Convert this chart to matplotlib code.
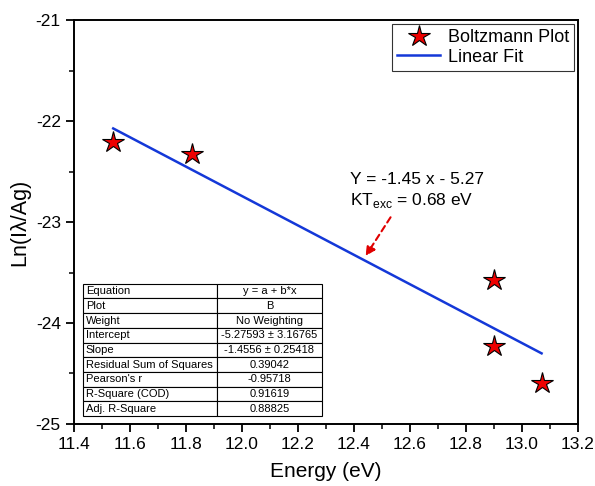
import numpy as np
import matplotlib
matplotlib.use("Agg")
from matplotlib import pyplot as plt
from matplotlib.ticker import MultipleLocator

plt.rcParams['font.family'] = ['Liberation Sans', 'DejaVu Sans']
plt.rcParams['axes.unicode_minus'] = False

# Dados
energia = [11.54, 11.82, 12.90, 12.90, 13.07]
ln_i = [-22.21, -22.33, -23.57, -24.23, -24.59]
intercepto = -5.27593
inclinacao = -1.4556

linhas_tabela = ["Equation", "Plot", "Weight", "Intercept", "Slope",
                 "Residual Sum of Squares", "Pearson's r", "R-Square (COD)",
                 "Adj. R-Square"]
valores_tabela = ["y = a + b*x", "B", "No Weighting", "-5.27593 \u00b1 3.16765",
                  "-1.4556 \u00b1 0.25418", "0.39042", "-0.95718", "0.91619",
                  "0.88825"]

# Figura
fig = plt.figure(figsize=(5.95, 4.86), dpi=100)
ax = fig.add_axes([0.1244, 0.1276, 0.847, 0.8312])

ax.plot(energia, ln_i, linestyle='none', marker='*', markersize=16,
        markerfacecolor='#ee0000', markeredgecolor='black', markeredgewidth=0.8,
        label='Boltzmann Plot', zorder=3)
xs = np.array([min(energia), max(energia)])
ax.plot(xs, intercepto + inclinacao * xs, color='#1438d8', lw=1.8, label='Linear Fit')

ax.set_xlim(11.4, 13.2)
ax.set_ylim(-25, -21)
ax.xaxis.set_major_locator(MultipleLocator(0.2))
ax.xaxis.set_minor_locator(MultipleLocator(0.1))
ax.yaxis.set_major_locator(MultipleLocator(1))
ax.yaxis.set_minor_locator(MultipleLocator(0.5))
ax.xaxis.set_major_formatter(matplotlib.ticker.FormatStrFormatter('%.1f'))
ax.tick_params(which='major', direction='out', length=6, width=1.3, labelsize=12.5)
ax.tick_params(which='minor', direction='out', length=3.5, width=1.1)
for s in ax.spines.values():
    s.set_linewidth(1.4)

ax.set_xlabel('Energy (eV)', fontsize=15, labelpad=7)
ax.set_ylabel('Ln(I\u03bb/Ag)', fontsize=15.5)

leg = ax.legend(loc='upper right', fontsize=13, frameon=True, fancybox=False,
                edgecolor='black', borderaxespad=0.2, handlelength=2.4,
                borderpad=0.3, labelspacing=0.15, handletextpad=0.4)
leg.get_frame().set_linewidth(0.8)

ax.text(12.386, -22.58, 'Y = -1.45 x - 5.27', fontsize=12.5, va='center')
ax.text(12.386, -22.79, 'KT$_{\\mathregular{exc}}$ = 0.68 eV', fontsize=12.5, va='center')
ax.annotate('', xy=(12.436, -23.36), xytext=(12.536, -22.93),
            arrowprops=dict(arrowstyle='-|>', color='#e00000', lw=1.5,
                            linestyle=(0, (3, 2)), mutation_scale=14))

# Tabela
tabela = ax.table(cellText=[[a, b] for a, b in zip(linhas_tabela, valores_tabela)],
                  colWidths=[0.56, 0.44], cellLoc='center',
                  bbox=[0.018, 0.02, 0.474, 0.327])
tabela.auto_set_font_size(False)
tabela.set_fontsize(8)
for (r, c), cell in tabela.get_celld().items():
    cell.set_linewidth(0.8)
    if c == 0:
        cell._loc = 'left'
        cell.PAD = 0.02
        cell.get_text().set_ha('left')

fig.savefig('out.png', dpi=100)
